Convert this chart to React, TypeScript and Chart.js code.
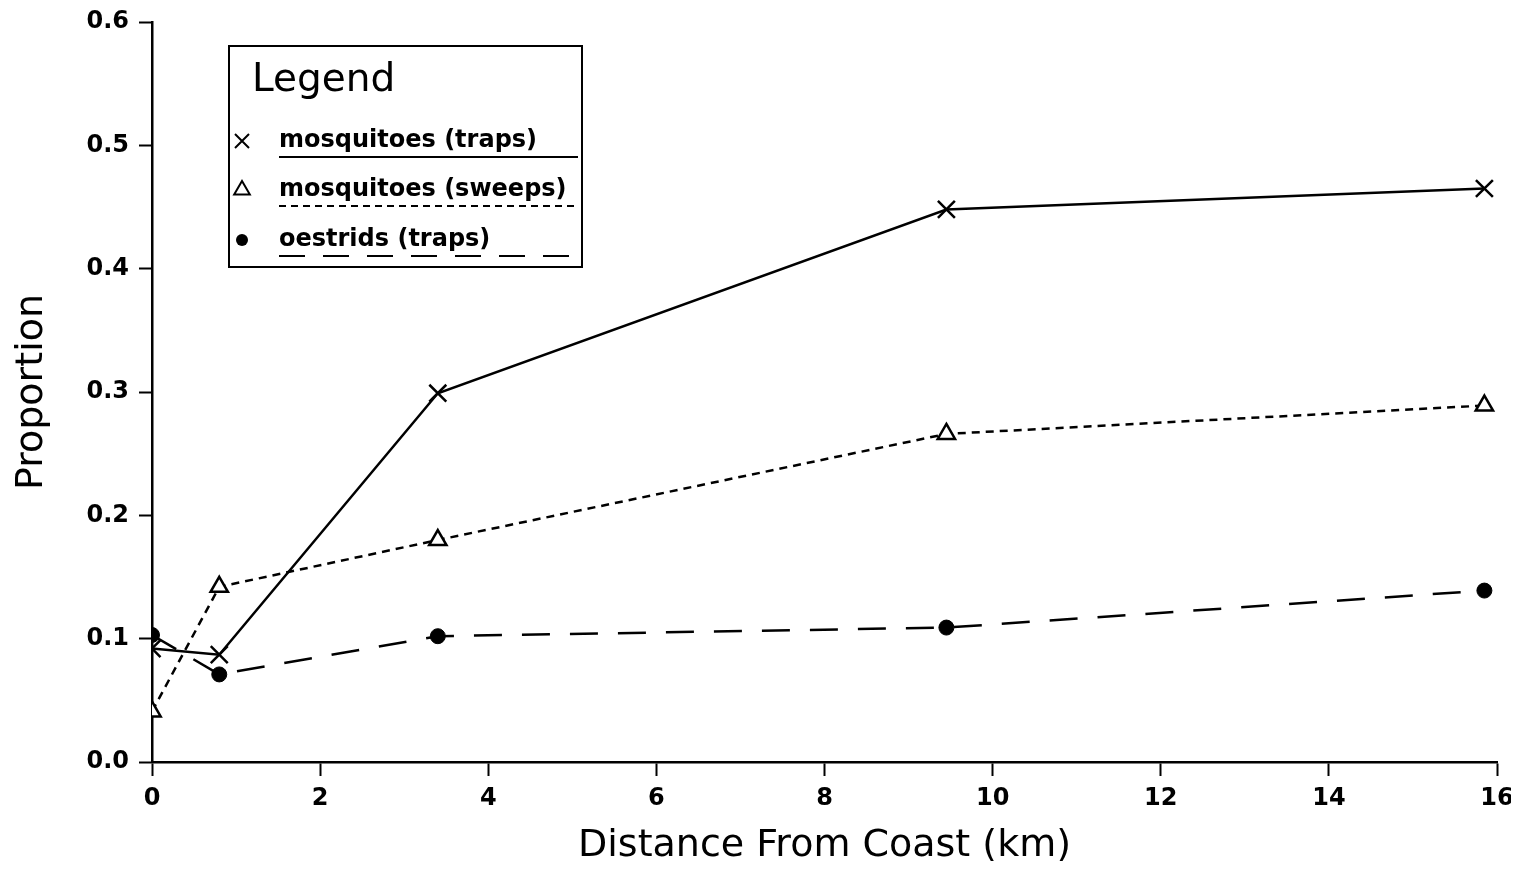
import React, { useEffect, useRef } from "react";
import { Chart, registerables } from "chart.js";

Chart.register(...registerables);

const distances = [0, 0.8, 3.4, 9.45, 15.85];
const mosquitoTraps = [0.092, 0.087, 0.299, 0.448, 0.465];
const mosquitoSweeps = [0.041, 0.142, 0.18, 0.266, 0.289];
const oestridTraps = [0.103, 0.071, 0.102, 0.109, 0.139];
const seriesNames = ["mosquitoes (traps)", "mosquitoes (sweeps)", "oestrids (traps)"];
const xTitle = "Distance From Coast (km)";
const yTitle = "Proportion";
const legendTitle = "Legend";

const FONT = "'DejaVu Sans', sans-serif";

function drawMarker(ctx: CanvasRenderingContext2D, style: string, x: number, y: number, r: number) {
  ctx.beginPath();
  if (style === "crossRot") {
    const d = r * 0.7;
    ctx.moveTo(x - d, y - d);
    ctx.lineTo(x + d, y + d);
    ctx.moveTo(x + d, y - d);
    ctx.lineTo(x - d, y + d);
    ctx.stroke();
  } else if (style === "triangle") {
    const s = r;
    ctx.moveTo(x, y - s);
    ctx.lineTo(x + s * 0.87, y + s * 0.5);
    ctx.lineTo(x - s * 0.87, y + s * 0.5);
    ctx.closePath();
    ctx.fill();
    ctx.stroke();
  } else {
    ctx.arc(x, y, r, 0, Math.PI * 2);
    ctx.fill();
  }
}

const legendPlugin = {
  id: "boxLegend",
  afterDraw(chart: any) {
    const ctx = chart.ctx;
    ctx.save();
    const bx = 221, by = 38, bw = 353, bh = 221;
    ctx.fillStyle = "#fff";
    ctx.fillRect(bx, by, bw, bh);
    ctx.strokeStyle = "#000";
    ctx.lineWidth = 2;
    ctx.setLineDash([]);
    ctx.strokeRect(bx, by, bw, bh);
    ctx.fillStyle = "#000";
    ctx.textBaseline = "middle";
    ctx.textAlign = "left";
    ctx.font = `39px ${FONT}`;
    ctx.fillText(legendTitle, 244, 73);
    const rows = [133, 182, 232];
    const dashes = [[], [7, 5], [26, 18]];
    const styles = ["crossRot", "triangle", "circle"];
    const radii = [10, 9, 6];
    rows.forEach((y, i) => {
      ctx.setLineDash([]);
      ctx.lineWidth = 2;
      ctx.strokeStyle = "#000";
      ctx.fillStyle = i === 2 ? "#000" : "#fff";
      drawMarker(ctx, styles[i], 234, y, radii[i]);
      ctx.fillStyle = "#000";
      ctx.font = `bold 24px ${FONT}`;
      ctx.fillText(seriesNames[i], 271, y);
      ctx.setLineDash(dashes[i]);
      ctx.lineWidth = 2;
      ctx.beginPath();
      ctx.moveTo(271, y + 16);
      ctx.lineTo(570, y + 16);
      ctx.stroke();
    });
    ctx.restore();
  },
};

export default function App() {
  const ref = useRef<HTMLCanvasElement>(null);
  useEffect(() => {
    if (!ref.current) return;
    const mk = (vals: number[]) => vals.map((v, i) => ({ x: distances[i], y: v }));
    const chart = new Chart(ref.current, {
      type: "line",
      data: {
        datasets: [
          {
            label: seriesNames[0],
            data: mk(mosquitoTraps),
            borderColor: "#000",
            borderWidth: 2.5,
            pointStyle: "crossRot",
            pointRadius: 12,
            pointBorderWidth: 2.5,
            pointBorderColor: "#000",
            pointBackgroundColor: "#000",
          },
          {
            label: seriesNames[1],
            data: mk(mosquitoSweeps),
            borderColor: "#000",
            borderWidth: 2.5,
            borderDash: [8, 6],
            pointStyle: "triangle",
            pointRadius: 10,
            pointBorderWidth: 2.5,
            pointBorderColor: "#000",
            pointBackgroundColor: "#fff",
          },
          {
            label: seriesNames[2],
            data: mk(oestridTraps),
            borderColor: "#000",
            borderWidth: 2.5,
            borderDash: [28, 20],
            pointStyle: "circle",
            pointRadius: 7.5,
            pointBorderWidth: 1,
            pointBorderColor: "#000",
            pointBackgroundColor: "#000",
          },
        ],
      },
      options: {
        animation: false,
        responsive: false,
        layout: { autoPadding: false, padding: { top: 14, right: 14, left: 0, bottom: 0 } },
        plugins: { legend: { display: false }, tooltip: { enabled: false } },
        scales: {
          x: {
            type: "linear",
            min: 0,
            max: 16,
            afterFit: (s: any) => { s.height = 99; s.paddingLeft = 0; s.paddingRight = 0; },
            ticks: {
              stepSize: 2,
              color: "#000",
              padding: 8,
              font: { family: FONT, size: 24, weight: "bold" },
            },
            grid: { display: true, drawOnChartArea: false, drawTicks: true, tickLength: 14, tickColor: "#000", tickWidth: 2 } as any,
            border: { color: "#000", width: 2.5 },
            title: {
              display: true,
              text: xTitle,
              color: "#000",
              font: { family: FONT, size: 38, lineHeight: 0.8 },
              padding: { top: 0, bottom: 0 },
            },
          },
          y: {
            type: "linear",
            min: 0,
            max: 0.6,
            afterFit: (s: any) => { s.width = 144; s.paddingTop = 0; s.paddingBottom = 0; },
            ticks: {
              stepSize: 0.1,
              color: "#000",
              padding: 10,
              font: { family: FONT, size: 24, weight: "bold" },
              callback: (v: any) => Number(v).toFixed(1),
            },
            grid: { display: true, drawOnChartArea: false, drawTicks: true, tickLength: 13, tickColor: "#000", tickWidth: 2 } as any,
            border: { color: "#000", width: 2.5 },
            title: {
              display: true,
              text: yTitle,
              color: "#000",
              font: { family: FONT, size: 38, lineHeight: 1.2 },
              padding: { top: 1, bottom: 0 },
            },
          },
        },
      },
      plugins: [legendPlugin],
    });
    return () => chart.destroy();
  }, []);
  return (
    <div style={{ width: 1503, height: 853 }}>
      <canvas ref={ref} width={1503} height={853} style={{ width: 1503, height: 853, display: "block" }} />
    </div>
  );
}
